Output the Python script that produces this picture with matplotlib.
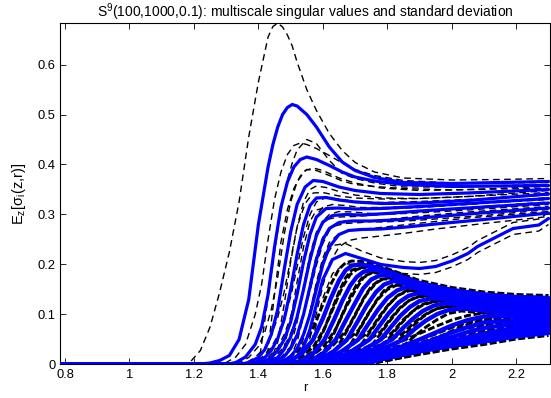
import matplotlib
matplotlib.use("Agg")
import matplotlib.pyplot as plt

plt.rcParams['font.family'] = ['Liberation Sans', 'DejaVu Sans']
plt.rcParams['mathtext.fontset'] = 'custom'
plt.rcParams['mathtext.rm'] = 'Liberation Sans'
plt.rcParams['mathtext.it'] = 'Liberation Sans:italic'
plt.rcParams['mathtext.default'] = 'regular'

# ---------------- data: separated leading singular values (mean, std) ----------------
top_r = [
    [0.78, 1.16, 1.19, 1.22, 1.25, 1.28, 1.31, 1.34, 1.37, 1.40, 1.43, 1.445, 1.46, 1.475, 1.49, 1.505, 1.52, 1.55, 1.58, 1.62, 1.66, 1.70, 1.76, 1.85, 2.00, 2.15, 2.30],
    [0.78, 1.27, 1.30, 1.33, 1.36, 1.39, 1.41, 1.43, 1.45, 1.47, 1.49, 1.51, 1.53, 1.55, 1.58, 1.62, 1.66, 1.70, 1.76, 1.85, 2.00, 2.15, 2.30],
    [0.78, 1.34, 1.37, 1.40, 1.42, 1.44, 1.46, 1.48, 1.50, 1.52, 1.545, 1.57, 1.60, 1.65, 1.70, 1.78, 1.90, 2.05, 2.30],
    [0.78, 1.36, 1.39, 1.42, 1.44, 1.46, 1.48, 1.50, 1.52, 1.54, 1.56, 1.58, 1.61, 1.65, 1.70, 1.78, 1.90, 2.05, 2.30],
    [0.78, 1.38, 1.41, 1.44, 1.46, 1.48, 1.50, 1.52, 1.54, 1.56, 1.58, 1.61, 1.65, 1.70, 1.78, 1.90, 2.05, 2.30],
    [0.78, 1.40, 1.43, 1.46, 1.48, 1.50, 1.52, 1.54, 1.56, 1.58, 1.60, 1.63, 1.67, 1.72, 1.80, 1.90, 2.05, 2.30],
    [0.78, 1.42, 1.45, 1.48, 1.50, 1.52, 1.54, 1.56, 1.58, 1.60, 1.62, 1.65, 1.69, 1.75, 1.82, 1.92, 2.05, 2.30],
    [0.78, 1.44, 1.47, 1.50, 1.52, 1.54, 1.56, 1.58, 1.60, 1.62, 1.65, 1.68, 1.72, 1.78, 1.86, 1.95, 2.10, 2.30],
    [0.78, 1.46, 1.49, 1.52, 1.54, 1.56, 1.58, 1.60, 1.63, 1.67, 1.72, 1.78, 1.85, 1.90, 1.95, 2.00, 2.05, 2.08, 2.19, 2.27, 2.30],
]
top_mean = [
    [0, 0, 0, 0.001, 0.003, 0.008, 0.018, 0.05, 0.13, 0.28, 0.395, 0.44, 0.475, 0.50, 0.514, 0.52, 0.517, 0.50, 0.475, 0.435, 0.405, 0.388, 0.374, 0.364, 0.362, 0.364, 0.366],
    [0, 0, 0, 0.004, 0.015, 0.04, 0.075, 0.14, 0.235, 0.315, 0.365, 0.395, 0.41, 0.415, 0.41, 0.398, 0.385, 0.375, 0.367, 0.36, 0.356, 0.357, 0.358],
    [0, 0, 0.004, 0.014, 0.03, 0.06, 0.11, 0.19, 0.265, 0.32, 0.355, 0.368, 0.366, 0.355, 0.348, 0.342, 0.34, 0.343, 0.35],
    [0, 0, 0.004, 0.014, 0.028, 0.052, 0.09, 0.15, 0.22, 0.28, 0.318, 0.333, 0.334, 0.329, 0.325, 0.322, 0.323, 0.328, 0.341],
    [0, 0, 0.004, 0.014, 0.028, 0.05, 0.085, 0.14, 0.205, 0.26, 0.295, 0.312, 0.313, 0.311, 0.312, 0.316, 0.322, 0.332],
    [0, 0, 0.004, 0.014, 0.03, 0.055, 0.095, 0.15, 0.21, 0.258, 0.285, 0.298, 0.3, 0.299, 0.302, 0.307, 0.313, 0.323],
    [0, 0, 0.004, 0.016, 0.032, 0.058, 0.1, 0.155, 0.21, 0.25, 0.272, 0.284, 0.287, 0.287, 0.289, 0.294, 0.301, 0.313],
    [0, 0, 0.004, 0.016, 0.032, 0.06, 0.1, 0.15, 0.2, 0.235, 0.26, 0.268, 0.27, 0.271, 0.275, 0.281, 0.29, 0.303],
    [0, 0, 0.004, 0.016, 0.035, 0.07, 0.12, 0.17, 0.21, 0.222, 0.212, 0.2, 0.194, 0.192, 0.196, 0.207, 0.222, 0.236, 0.272, 0.279, 0.292],
]
top_std = [
    [0, 0, 0.006, 0.027, 0.072, 0.137, 0.207, 0.275, 0.325, 0.285, 0.26, 0.236, 0.208, 0.175, 0.145, 0.117, 0.088, 0.05, 0.033, 0.027, 0.023, 0.016, 0.011, 0.009, 0.007, 0.006, 0.006],
    [0, 0.002, 0.004, 0.011, 0.025, 0.06, 0.085, 0.11, 0.095, 0.07, 0.055, 0.043, 0.033, 0.025, 0.022, 0.02, 0.018, 0.015, 0.011, 0.008, 0.007, 0.006, 0.006],
    [0, 0.003, 0.01, 0.022, 0.035, 0.05, 0.065, 0.07, 0.06, 0.045, 0.033, 0.025, 0.022, 0.018, 0.015, 0.011, 0.008, 0.007, 0.006],
    [0, 0.003, 0.01, 0.02, 0.03, 0.042, 0.055, 0.06, 0.055, 0.045, 0.032, 0.024, 0.02, 0.017, 0.014, 0.011, 0.009, 0.008, 0.007],
    [0, 0.003, 0.01, 0.02, 0.03, 0.04, 0.05, 0.055, 0.05, 0.04, 0.03, 0.022, 0.018, 0.015, 0.012, 0.01, 0.008, 0.007],
    [0, 0.003, 0.01, 0.02, 0.03, 0.04, 0.05, 0.052, 0.048, 0.04, 0.03, 0.022, 0.018, 0.015, 0.012, 0.01, 0.008, 0.007],
    [0, 0.003, 0.01, 0.02, 0.03, 0.04, 0.048, 0.05, 0.045, 0.037, 0.028, 0.022, 0.018, 0.015, 0.012, 0.01, 0.008, 0.007],
    [0, 0.003, 0.01, 0.02, 0.03, 0.04, 0.047, 0.048, 0.042, 0.033, 0.025, 0.02, 0.017, 0.014, 0.012, 0.01, 0.008, 0.007],
    [0, 0.003, 0.008, 0.015, 0.025, 0.035, 0.04, 0.037, 0.028, 0.02, 0.015, 0.013, 0.012, 0.012, 0.012, 0.012, 0.012, 0.012, 0.012, 0.012, 0.012],
]

# ---------------- data: dense bundle of small singular values (mean, std) ----------------
band_r = [
    [0.78, 1.46, 1.50, 1.535, 1.57, 1.60, 1.625, 1.65, 1.67, 1.69, 1.72, 1.76, 1.82, 1.9, 2.0, 2.1, 2.2, 2.3],
    [0.78, 1.49, 1.535, 1.57, 1.605, 1.635, 1.66, 1.685, 1.705, 1.725, 1.755, 1.80, 1.85, 1.9, 2.0, 2.1, 2.2, 2.3],
    [0.78, 1.515, 1.565, 1.602, 1.64, 1.67, 1.70, 1.725, 1.75, 1.78, 1.82, 1.86, 1.9, 2.0, 2.1, 2.2, 2.3],
    [0.78, 1.53, 1.587, 1.631, 1.675, 1.705, 1.735, 1.765, 1.79, 1.82, 1.86, 1.9, 2.0, 2.1, 2.2, 2.3],
    [0.78, 1.545, 1.61, 1.66, 1.71, 1.74, 1.77, 1.80, 1.83, 1.86, 1.9, 1.95, 2.0, 2.1, 2.2, 2.3],
    [0.78, 1.56, 1.635, 1.69, 1.745, 1.775, 1.805, 1.835, 1.865, 1.895, 1.93, 1.97, 2.02, 2.1, 2.2, 2.3],
    [0.78, 1.575, 1.655, 1.72, 1.78, 1.81, 1.84, 1.87, 1.90, 1.935, 1.97, 2.02, 2.1, 2.2, 2.3],
    [0.78, 1.59, 1.675, 1.75, 1.815, 1.85, 1.88, 1.91, 1.945, 1.98, 2.02, 2.07, 2.14, 2.22, 2.3],
    [0.78, 1.605, 1.695, 1.775, 1.85, 1.885, 1.92, 1.955, 1.99, 2.03, 2.08, 2.15, 2.22, 2.3],
    [0.78, 1.625, 1.72, 1.8, 1.85, 1.9, 1.95, 2.0, 2.05, 2.1, 2.2, 2.3],
    [0.78, 1.64, 1.74, 1.82, 1.9, 1.95, 2.0, 2.05, 2.1, 2.2, 2.3],
    [0.78, 1.655, 1.76, 1.84, 1.9, 2.0, 2.05, 2.1, 2.2, 2.3],
    [0.78, 1.67, 1.78, 1.86, 1.93, 2.0, 2.1, 2.2, 2.3],
    [0.78, 1.685, 1.79, 1.88, 2.0, 2.1, 2.2, 2.3],
    [0.78, 1.70, 1.80, 1.9, 2.0, 2.1, 2.2, 2.3],
    [0.78, 1.73, 1.79, 1.9, 2.0, 2.1, 2.2, 2.3],
]
band_mean = [
    [0, 0, 0.008, 0.022, 0.05, 0.092, 0.133, 0.168, 0.188, 0.198, 0.2, 0.195, 0.182, 0.163, 0.149, 0.14, 0.135, 0.133],
    [0, 0, 0.008, 0.022, 0.05, 0.09, 0.127, 0.158, 0.175, 0.185, 0.19, 0.185, 0.173, 0.159, 0.145, 0.136, 0.131, 0.129],
    [0, 0, 0.008, 0.023, 0.05, 0.087, 0.123, 0.152, 0.17, 0.179, 0.176, 0.166, 0.154, 0.14, 0.132, 0.127, 0.125],
    [0, 0, 0.009, 0.025, 0.05, 0.083, 0.117, 0.145, 0.16, 0.167, 0.161, 0.152, 0.136, 0.127, 0.123, 0.121],
    [0, 0, 0.01, 0.027, 0.05, 0.08, 0.109, 0.133, 0.148, 0.155, 0.152, 0.141, 0.132, 0.123, 0.119, 0.117],
    [0, 0, 0.01, 0.027, 0.05, 0.077, 0.103, 0.124, 0.137, 0.143, 0.141, 0.134, 0.126, 0.119, 0.114, 0.112],
    [0, 0, 0.01, 0.027, 0.05, 0.074, 0.097, 0.115, 0.127, 0.132, 0.131, 0.125, 0.117, 0.111, 0.108],
    [0, 0, 0.01, 0.028, 0.05, 0.074, 0.092, 0.107, 0.118, 0.122, 0.12, 0.115, 0.109, 0.105, 0.104],
    [0, 0, 0.01, 0.028, 0.05, 0.071, 0.088, 0.101, 0.109, 0.112, 0.109, 0.104, 0.1, 0.099],
    [0, 0, 0.011, 0.027, 0.037, 0.05, 0.064, 0.078, 0.089, 0.096, 0.097, 0.095],
    [0, 0, 0.012, 0.026, 0.04, 0.051, 0.064, 0.075, 0.084, 0.089, 0.09],
    [0, 0, 0.012, 0.026, 0.035, 0.055, 0.065, 0.073, 0.082, 0.085],
    [0, 0, 0.012, 0.026, 0.036, 0.047, 0.062, 0.074, 0.08],
    [0, 0, 0.012, 0.026, 0.042, 0.056, 0.068, 0.075],
    [0, 0, 0.013, 0.028, 0.04, 0.051, 0.062, 0.069],
    [0, 0, 0.012, 0.026, 0.037, 0.046, 0.056, 0.063],
]
band_std = [
    [0, 0.002, 0.008, 0.013, 0.023, 0.028, 0.028, 0.023, 0.015, 0.009, 0.006, 0.006, 0.005, 0.005, 0.005, 0.005, 0.005, 0.005],
    [0, 0.002, 0.008, 0.013, 0.022, 0.027, 0.027, 0.022, 0.015, 0.009, 0.006, 0.005, 0.005, 0.005, 0.005, 0.005, 0.005, 0.005],
    [0, 0.002, 0.008, 0.013, 0.021, 0.025, 0.025, 0.021, 0.014, 0.008, 0.005, 0.005, 0.005, 0.005, 0.005, 0.005, 0.005],
    [0, 0.002, 0.008, 0.013, 0.02, 0.023, 0.023, 0.018, 0.012, 0.007, 0.005, 0.005, 0.005, 0.005, 0.005, 0.005],
    [0, 0.002, 0.008, 0.013, 0.018, 0.021, 0.021, 0.017, 0.011, 0.007, 0.005, 0.005, 0.005, 0.005, 0.005, 0.005],
    [0, 0.002, 0.008, 0.012, 0.017, 0.019, 0.018, 0.015, 0.01, 0.007, 0.005, 0.005, 0.005, 0.005, 0.005, 0.005],
    [0, 0.002, 0.007, 0.012, 0.016, 0.018, 0.017, 0.014, 0.009, 0.006, 0.005, 0.005, 0.005, 0.005, 0.005],
    [0, 0.002, 0.007, 0.011, 0.014, 0.016, 0.015, 0.012, 0.008, 0.006, 0.005, 0.005, 0.005, 0.005, 0.005],
    [0, 0.002, 0.007, 0.011, 0.013, 0.014, 0.013, 0.011, 0.007, 0.005, 0.005, 0.005, 0.005, 0.005],
    [0, 0.002, 0.006, 0.009, 0.011, 0.012, 0.012, 0.011, 0.009, 0.007, 0.005, 0.005],
    [0, 0.002, 0.006, 0.008, 0.009, 0.01, 0.01, 0.009, 0.007, 0.005, 0.005],
    [0, 0.002, 0.005, 0.007, 0.008, 0.009, 0.008, 0.007, 0.005, 0.005],
    [0, 0.002, 0.005, 0.006, 0.007, 0.007, 0.007, 0.005, 0.005],
    [0, 0.002, 0.005, 0.006, 0.006, 0.006, 0.005, 0.005],
    [0, 0.002, 0.005, 0.006, 0.006, 0.006, 0.005, 0.005],
    [0, 0.002, 0.005, 0.006, 0.006, 0.006, 0.005, 0.005],
]

x_ticks = [0.8, 1.0, 1.2, 1.4, 1.6, 1.8, 2.0, 2.2]
x_ticklabels = ['0.8', '1', '1.2', '1.4', '1.6', '1.8', '2', '2.2']
y_ticks = [0, 0.1, 0.2, 0.3, 0.4, 0.5, 0.6]
y_ticklabels = ['0', '0.1', '0.2', '0.3', '0.4', '0.5', '0.6']

title = 'S$^{9}$(100,1000,0.1): multiscale singular values and standard deviation'
xlabel = 'r'
ylabel = 'E$_{z}$[σ$_{i}$(z,r)]'

# ---------------- drawing ----------------
fig = plt.figure(figsize=(5.51, 3.98), dpi=100)
ax = fig.add_axes([0.108, 0.0842, 0.891, 0.858])

def draw(rs, ms, ss, lw_blue, lw_dash, dash_style):
    for r, m, s in zip(rs, ms, ss):
        up = [a + b for a, b in zip(m, s)]
        lo = [a - b for a, b in zip(m, s)]
        ax.plot(r, up, color='black', lw=lw_dash, linestyle=dash_style, zorder=2)
        ax.plot(r, lo, color='black', lw=lw_dash, linestyle=dash_style, zorder=2)
    for r, m in zip(rs, ms):
        ax.plot(r, m, color=(0, 0, 1), lw=lw_blue, zorder=3,
                solid_joinstyle='round', solid_capstyle='round')

draw(band_r, band_mean, band_std, 3.1, 2.1, (0, (2.4, 0.9)))
draw(top_r, top_mean, top_std, 2.3, 1.0, (0, (4.8, 3.2)))

ax.set_xlim(0.783, 2.306)
ax.set_ylim(0, 0.683)
ax.set_xticks(x_ticks)
ax.set_xticklabels(x_ticklabels)
ax.set_yticks(y_ticks)
ax.set_yticklabels(y_ticklabels)
ax.tick_params(direction='in', top=True, right=True, length=4, width=0.6,
               labelsize=9.3, pad=3, colors='black')
for sp in ax.spines.values():
    sp.set_linewidth(0.8)
    sp.set_color('black')

ax.set_title(title, fontsize=10, pad=4)
ax.set_xlabel(xlabel, fontsize=9.5, labelpad=1)
ax.set_ylabel(ylabel, fontsize=10.5, labelpad=7)

fig.savefig('out.png', dpi=100)
